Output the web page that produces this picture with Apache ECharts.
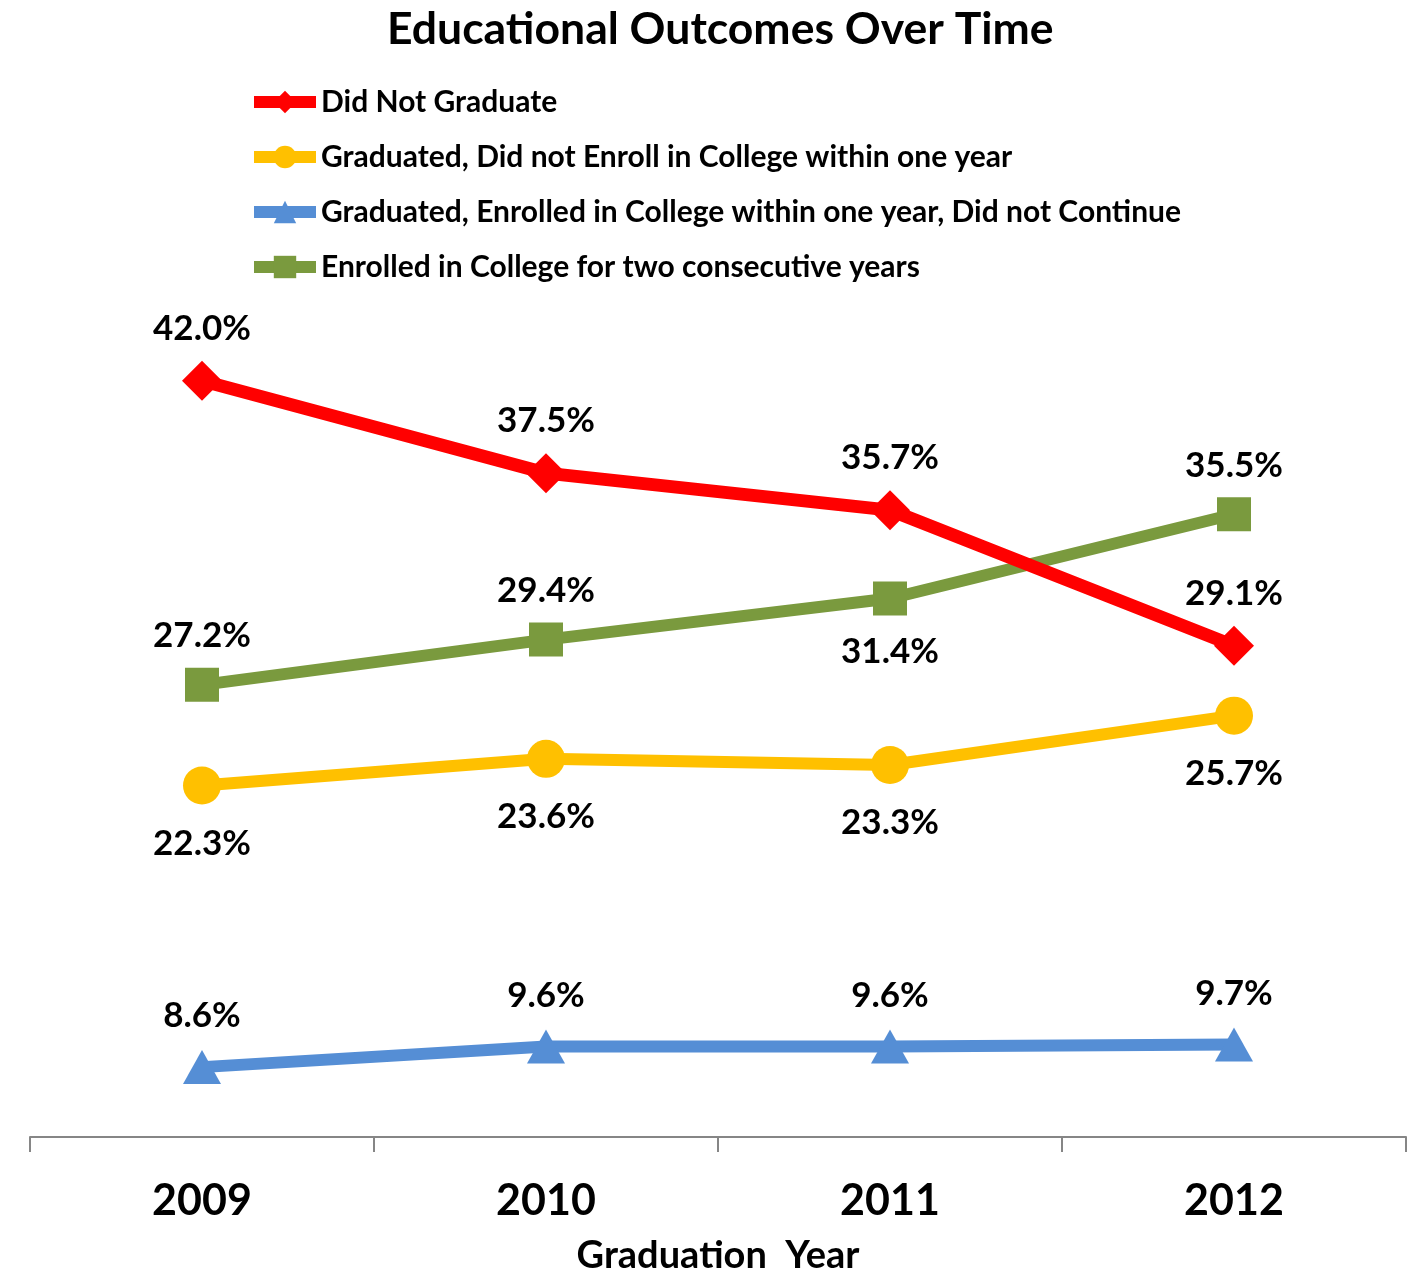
<!DOCTYPE html>
<html>
<head>
<meta charset="utf-8">
<script src="https://cdn.jsdelivr.net/npm/echarts@6/dist/echarts.min.js"></script>
<style>
html,body{margin:0;padding:0;background:#fff;}
#chart{width:1421px;height:1285px;}
</style>
</head>
<body>
<div id="chart"></div>
<script>
const years = ['2009', '2010', '2011', '2012'];
const didNotGraduate = [42.0, 37.5, 35.7, 29.1];
const gradNoEnroll = [22.3, 23.6, 23.3, 25.7];
const gradEnrollNoContinue = [8.6, 9.6, 9.6, 9.7];
const enrolledTwoYears = [27.2, 29.4, 31.4, 35.5];

const FONT = 'Lato';

function labelAt(dy) {
  return {
    show: true,
    position: 'inside',
    offset: [0, dy],
    fontFamily: FONT,
    fontWeight: 'bold',
    fontSize: 35,
    color: '#000',
    formatter: p => p.value.toFixed(1) + '%'
  };
}

function items(values, dyFn) {
  return values.map((v, i) => ({ value: v, label: labelAt(dyFn(i)) }));
}

const option = {
  animation: false,
  backgroundColor: '#fff',
  title: {
    text: 'Educational Outcomes Over Time',
    left: 382,
    top: 2,
    textStyle: { fontFamily: FONT, fontWeight: 'bold', fontSize: 44.5, color: '#000' }
  },
  legend: {
    orient: 'vertical',
    left: 243,
    top: 82,
    itemWidth: 62,
    itemHeight: 28,
    itemGap: 25,
    lineStyle: { width: 12 },
    textStyle: { fontFamily: FONT, fontWeight: 'bold', fontSize: 30, color: '#000' },
    data: ['Did Not Graduate', 'Graduated, Did not Enroll in College within one year',
      'Graduated, Enrolled in College within one year, Did not Continue',
      'Enrolled in College for two consecutive years']
  },
  grid: { left: 30, right: 15, top: 319, bottom: 148, containLabel: false },
  xAxis: {
    type: 'category',
    data: years,
    boundaryGap: true,
    axisLine: { lineStyle: { color: '#868686', width: 2 } },
    axisTick: { show: true, length: 15, lineStyle: { color: '#868686', width: 2 } },
    axisLabel: { fontFamily: FONT, fontWeight: 'bold', fontSize: 43, color: '#000', margin: 43 },
    name: 'Graduation  Year',
    nameLocation: 'middle',
    nameGap: 100,
    nameTextStyle: { fontFamily: FONT, fontWeight: 'bold', fontSize: 38, color: '#000' }
  },
  yAxis: {
    type: 'value',
    min: 5.2,
    max: 45,
    show: false,
    splitLine: { show: false }
  },
  series: [
    {
      name: 'Did Not Graduate',
      type: 'line',
      data: items(didNotGraduate, () => -52),
      symbol: 'diamond',
      symbolSize: 40,
      color: '#FF0000',
      lineStyle: { width: 13, color: '#FF0000' },
      itemStyle: { color: '#FF0000' },
      z: 4
    },
    {
      name: 'Graduated, Did not Enroll in College within one year',
      type: 'line',
      data: items(gradNoEnroll, () => 58),
      symbol: 'circle',
      symbolSize: 38,
      color: '#FFC000',
      lineStyle: { width: 12, color: '#FFC000' },
      itemStyle: { color: '#FFC000' }
    },
    {
      name: 'Graduated, Enrolled in College within one year, Did not Continue',
      type: 'line',
      data: items(gradEnrollNoContinue, () => -51),
      symbol: 'triangle',
      symbolSize: [38, 34],
      color: '#558ED5',
      lineStyle: { width: 12, color: '#558ED5' },
      itemStyle: { color: '#558ED5' }
    },
    {
      name: 'Enrolled in College for two consecutive years',
      type: 'line',
      data: items(enrolledTwoYears, i => (i === 2 ? 53 : -49)),
      symbol: 'rect',
      symbolSize: 34,
      color: '#7A9A3E',
      lineStyle: { width: 12, color: '#7A9A3E' },
      itemStyle: { color: '#7A9A3E' },
      z: 3
    }
  ]
};

const chart = echarts.init(document.getElementById('chart'));
chart.setOption(option);
</script>
</body>
</html>
